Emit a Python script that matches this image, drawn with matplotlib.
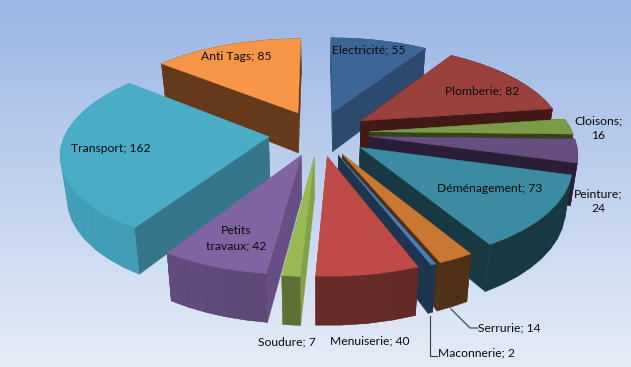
import numpy as np
import matplotlib
matplotlib.use("Agg")
import matplotlib.pyplot as plt
from matplotlib.patches import Polygon
from matplotlib.colors import to_rgb

categories = ["Electricité", "Plomberie", "Cloisons", "Peinture", "Déménagement", "Serrurie",
              "Maconnerie", "Menuiserie", "Soudure", "Petits travaux", "Transport", "Anti Tags"]
values = [55, 82, 16, 24, 73, 14, 2, 40, 7, 42, 162, 85]
top_colors = ["#3B6695", "#9A403D", "#7C9B48", "#664F80", "#3B8CA2", "#C87833",
              "#4A7EBB", "#BE4B48", "#98B954", "#8064A2", "#4BACC6", "#F79646"]
start_colors = ["#2F527A", "#421917", "#364219", "#2A1E36", "#183842", "#4F3016",
                "#1F344F", "#6B2B29", "#84A14A", "#674F83", "#35768A", "#653A1B"]
end_colors = ["#2C4A6E", "#421917", "#364219", "#2A1E36", "#183842", "#4F3016",
              "#1F344F", "#BE4B48", "#98B954", "#8064A2", "#4BACC6", "#653A1B"]
rim_colors = ["#2C4A6E", "#421917", "#364219", "#2A1E36", "#183842", "#4F3016",
              "#1F344F", "#632A28", "#5E7035", "#5A4573", "#3D91A7", "#653A1B"]
rim_shaded = ["Menuiserie", "Petits travaux", "Transport"]
label_text = {"Electricité": "Electricité; 55", "Plomberie": "Plomberie; 82", "Cloisons": "Cloisons;\n16",
              "Peinture": "Peinture;\n24", "Déménagement": "Déménagement; 73", "Serrurie": "Serrurie; 14",
              "Maconnerie": "Maconnerie; 2", "Menuiserie": "Menuiserie; 40", "Soudure": "Soudure; 7",
              "Petits travaux": "Petits\ntravaux; 42", "Transport": "Transport; 162", "Anti Tags": "Anti Tags; 85"}
label_pos = {"Electricité": (369, 50), "Plomberie": (482, 91), "Cloisons": (598, 128),
             "Peinture": (598, 201), "Déménagement": (490, 189), "Serrurie": (509, 328),
             "Maconnerie": (477, 353), "Menuiserie": (370, 341), "Soudure": (287, 342),
             "Petits travaux": (236, 238), "Transport": (111, 149), "Anti Tags": (236, 56)}

W, H = 631, 367
fig = plt.figure(figsize=(W / 100, H / 100), dpi=100)
ax = fig.add_axes([0, 0, 1, 1])
ax.set_xlim(0, W)
ax.set_ylim(H, 0)
ax.axis("off")

# background gradient
c0, c1 = np.array([155, 182, 228]) / 255, np.array([229, 236, 247]) / 255
t = np.linspace(0, 1, 256)[:, None, None]
ax.imshow(c0 + (c1 - c0) * t, extent=[0, W, H, 0], aspect="auto", zorder=0)

CX, CY, RX, RY, K, EXPLODE = 319, 133, 203, 92, 0.16, 0.25


def project(u, v):
    den = 1 + K * v
    return CX + RX * u / den, CY - RY * v / den


def drop(x, y):
    h = 40 + 0.055 * (y - 112)
    return x + (CX - x) * 0.027, y + h


def lit(color, f):
    return tuple(np.clip(np.array(to_rgb(color)) * f, 0, 1))


total = sum(values)
cum = np.concatenate([[0], np.cumsum(values)]) / total * 2 * np.pi
order = [11, 0, 1, 2, 3, 4, 10, 9, 8, 5, 6, 7]

for z, i in enumerate(order):
    a0, a1 = cum[i], cum[i + 1]
    m = (a0 + a1) / 2
    du, dv = EXPLODE * np.sin(m), EXPLODE * np.cos(m)
    th = np.linspace(a0, a1, max(3, int(np.degrees(a1 - a0) / 6) + 2))
    ax_, ay_ = project(du, dv)
    rx_, ry_ = project(du + np.sin(th), dv + np.cos(th))
    bx_, by_ = drop(rx_, ry_)
    abx, aby = drop(ax_, ay_)
    zo = 2 + z
    face0 = Polygon([(ax_, ay_), (rx_[0], ry_[0]), (bx_[0], by_[0]), (abx, aby)],
                    fc=start_colors[i], ec=start_colors[i], lw=0.3, zorder=zo)
    face1 = Polygon([(ax_, ay_), (rx_[-1], ry_[-1]), (bx_[-1], by_[-1]), (abx, aby)],
                    fc=end_colors[i], ec=end_colors[i], lw=0.3, zorder=zo)
    # the hidden radial face goes first
    for face in ((face0, face1) if m < np.pi else (face1, face0)):
        ax.add_patch(face)
    # outer rim: one solid base, then faint bands on the slices that have them
    ax.add_patch(Polygon(np.column_stack([np.r_[rx_, bx_[::-1]], np.r_[ry_, by_[::-1]]]),
                         fc=rim_colors[i], ec=rim_colors[i], lw=0.3, zorder=zo))
    if categories[i] in rim_shaded:
        for j in range(len(th) - 1):
            mid = (th[j] + th[j + 1]) / 2
            col = lit(rim_colors[i], 1 - 0.10 * np.sin(mid + 0.4))
            ax.add_patch(Polygon([(rx_[j], ry_[j]), (rx_[j + 1], ry_[j + 1]),
                                  (bx_[j + 1], by_[j + 1]), (bx_[j], by_[j])],
                                 fc=col, ec="none", zorder=zo))
    # top face
    ax.add_patch(Polygon(np.column_stack([np.r_[ax_, rx_], np.r_[ay_, ry_]]),
                         fc=top_colors[i], ec=top_colors[i], lw=0.3, zorder=zo))

# leader lines
ax.plot([451, 470, 478], [309, 328, 328], color="#3a3a3a", lw=0.8, zorder=30)
ax.plot([430, 430, 437], [316, 356, 356], color="#3a3a3a", lw=0.8, zorder=30)

for name in categories:
    x, y = label_pos[name]
    ax.text(x, y, label_text[name], ha="center", va="center", fontsize=8.7, family="Lato",
            color="#0a0a0a", linespacing=1.45, zorder=40)

fig.savefig("out.png", dpi=100)
